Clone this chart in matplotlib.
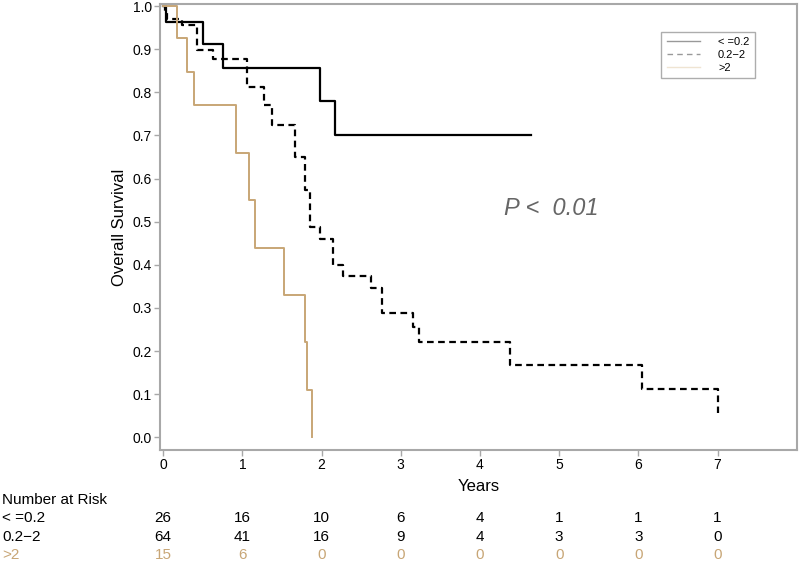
import matplotlib
matplotlib.use('Agg')
import matplotlib.pyplot as plt
import matplotlib.transforms as mtransforms
from matplotlib.lines import Line2D

plt.rcParams['font.family'] = ['Liberation Sans', 'DejaVu Sans']

# Kaplan-Meier curves (time in years, survival)
t_low = [0, 0.03, 0.5, 0.75, 1.98, 2.17, 4.64]
s_low = [1.0, 0.962, 0.913, 0.857, 0.78, 0.70, 0.70]

t_mid = [0, 0.02, 0.05, 0.24, 0.43, 0.63, 1.06, 1.27, 1.38, 1.66, 1.79, 1.86,
         1.98, 2.14, 2.27, 2.62, 2.76, 3.15, 3.23, 4.38, 6.04, 7.0]
s_mid = [1.0, 0.984, 0.97, 0.956, 0.898, 0.877, 0.812, 0.77, 0.724, 0.65, 0.573, 0.487,
         0.46, 0.40, 0.375, 0.345, 0.288, 0.255, 0.222, 0.167, 0.111, 0.056]

t_high = [0, 0.18, 0.30, 0.39, 0.92, 1.08, 1.16, 1.52, 1.79, 1.82, 1.88]
s_high = [1.0, 0.925, 0.847, 0.77, 0.66, 0.55, 0.44, 0.33, 0.22, 0.11, 0.0]

groups = ['< =0.2', '0.2\u22122', '>2']
risk_times = [0, 1, 2, 3, 4, 5, 6, 7]
risk_low = [26, 16, 10, 6, 4, 1, 1, 1]
risk_mid = [64, 41, 16, 9, 4, 3, 3, 0]
risk_high = [15, 6, 0, 0, 0, 0, 0, 0]

tan = '#c8a676'
grey = '#a8a8a8'

fig = plt.figure(figsize=(8, 5.62), dpi=100)
ax = fig.add_axes([0.2, 0.199, 0.796, 0.794])

ax.step(t_low, s_low, where='post', color='black', lw=1.6)
ax.step(t_mid, s_mid, where='post', color='black', lw=1.6, linestyle=(0, (3, 2)))
ax.step(t_high, s_high, where='post', color=tan, lw=1.4)

ax.set_xlim(-0.04, 8.0)
ax.set_ylim(-0.03, 1.005)
ax.set_xticks(range(8))
ax.set_yticks([i / 10 for i in range(11)])
ax.set_yticklabels([f'{i / 10:.1f}' for i in range(11)])
ax.tick_params(colors=grey, labelcolor='black', labelsize=10, length=4, width=1, pad=2)
for sp in ax.spines.values():
    sp.set_color(grey)
    sp.set_linewidth(1.5)

ax.set_ylabel('Overall Survival', fontsize=12, labelpad=4)
ax.set_xlabel('Years', fontsize=12, labelpad=5)

ax.text(4.9, 0.53, 'P <  0.01', fontsize=17, color='#666666', ha='center', va='center',
        fontstyle='italic')

handles = [Line2D([], [], color='#999999', lw=1),
           Line2D([], [], color='#999999', lw=1, linestyle=(0, (4, 3))),
           Line2D([], [], color='#efe4d2', lw=1)]
leg = ax.legend(handles, groups, loc='upper right', bbox_to_anchor=(0.943, 0.95),
                fontsize=8, frameon=True, fancybox=False, handlelength=3.0,
                borderpad=0.5, labelspacing=0.25, handletextpad=1.6)
leg.get_frame().set_edgecolor('#999999')
leg.get_frame().set_linewidth(1)

# Number at risk table
trans = mtransforms.blended_transform_factory(ax.transData, fig.transFigure)
fig.text(0.003, 0.110, 'Number at Risk', fontsize=11, va='center')
rows = [(risk_low, 'black', 0.078), (risk_mid, 'black', 0.0445), (risk_high, tan, 0.0125)]
for (vals, col, y), name in zip(rows, groups):
    fig.text(0.003, y, name, fontsize=11, color=col, va='center')
    for t, v in zip(risk_times, vals):
        ax.text(t, y, str(v), transform=trans, fontsize=11, color=col, ha='center', va='center')

fig.savefig('out.png', dpi=100)
